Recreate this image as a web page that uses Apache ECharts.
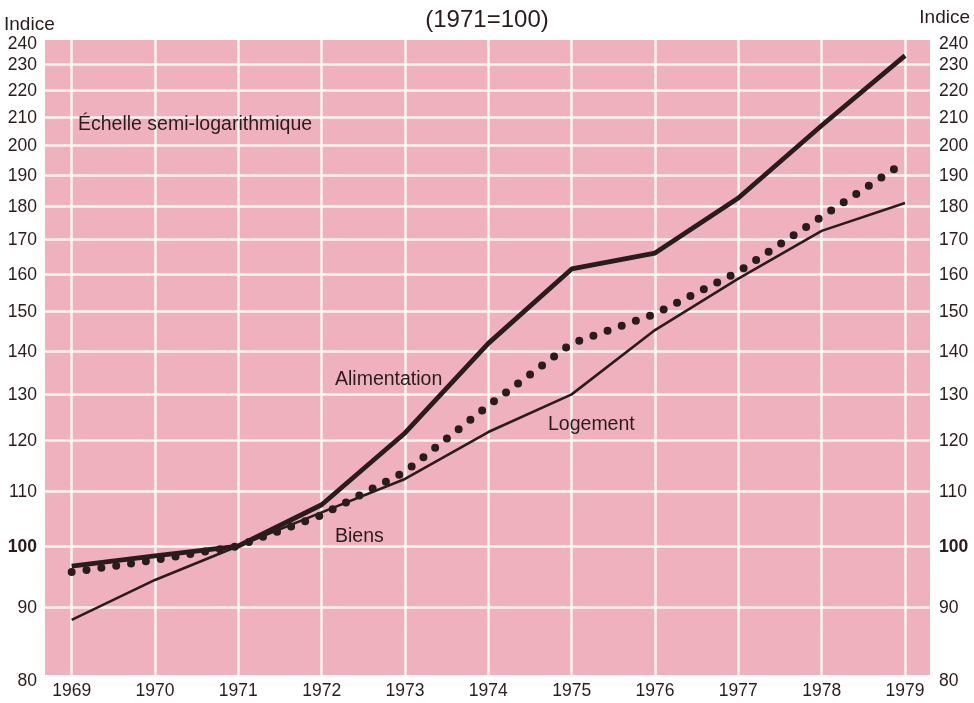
<!DOCTYPE html>
<html>
<head>
<meta charset="utf-8">
<script src="https://cdn.jsdelivr.net/npm/echarts@6/dist/echarts.min.js"></script>
<style>
  html, body { margin: 0; padding: 0; background: #fff; }
  #chart { width: 974px; height: 703px; }
</style>
</head>
<body>
<div id="chart"></div>
<script>
var years = [1969, 1970, 1971, 1972, 1973, 1974, 1975, 1976, 1977, 1978, 1979];
var alimentation = [96.6, 98.3, 100, 107.4, 121.6, 142, 161.5, 166, 182.6, 207, 233.6];
var biens = [95.6, 97.6, 100, 105.5, 113.7, 127.5, 142, 149.4, 160.7, 176.8, 194.3];
var logement = [88, 94.3, 100, 106, 112.3, 121.8, 130, 145.3, 158.8, 172.5, 181];
var yTicks = [80, 90, 100, 110, 120, 130, 140, 150, 160, 170, 180, 190, 200, 210, 220, 230, 240];

var ink = '#2a1c1d';
var font = 'Liberation Sans';

function pairs(vals) {
  return years.map(function (y, i) { return [y, vals[i]]; });
}

/* horizontal grid lines (log scale) + left / right labels */
function tickLines(side) {
  return yTicks.map(function (v) {
    var first = v === yTicks[0], last = v === yTicks[yTicks.length - 1];
    return {
      yAxis: v,
      lineStyle: {
        color: side === 'start' && !first && !last ? '#fbf6f2' : 'transparent',
        width: 2.5,
        type: 'solid'
      },
      label: {
        show: true,
        position: side,
        distance: side === 'start' ? 8 : 9,
        offset: [0, first ? 6 : (last ? 4 : 1)],
        formatter: String(v),
        fontWeight: v === 100 ? 'bold' : 'normal'
      }
    };
  });
}

var chart = echarts.init(document.getElementById('chart'));
chart.setOption({
  animation: false,
  backgroundColor: '#fff',
  title: {
    text: '(1971=100)',
    left: 'center',
    top: 3,
    textStyle: { fontFamily: font, fontSize: 24, fontWeight: 'normal', color: ink }
  },
  grid: {
    left: 45, right: 44, top: 40, bottom: 28,
    show: true,
    backgroundColor: '#f0b1be',
    borderWidth: 0
  },
  xAxis: {
    type: 'value',
    min: 1968.68,
    max: 1979.3,
    axisLine: { show: false },
    axisTick: { show: false, customValues: years },
    axisLabel: {
      customValues: years,
      margin: 7,
      fontFamily: font, fontSize: 17.5, color: ink,
      formatter: function (v) { return String(v); }
    },
    splitLine: { show: true, lineStyle: { color: '#fbf6f2', width: 2.5 } }
  },
  yAxis: {
    type: 'log',
    logBase: 10,
    min: 80,
    max: 240,
    axisLine: { show: false },
    axisTick: { show: false },
    axisLabel: { show: false },
    splitLine: { show: false }
  },
  graphic: [
    { type: 'text', z: 100, left: 4, top: 15, style: { text: 'Indice', font: '19px ' + font, fill: ink } },
    { type: 'text', z: 100, right: 4, top: 8, style: { text: 'Indice', font: '19px ' + font, fill: ink } },
    { type: 'text', z: 100, left: 78, top: 115, style: { text: 'Échelle semi-logarithmique', font: '19.5px ' + font, fill: ink } },
    { type: 'text', z: 100, left: 335, top: 370, style: { text: 'Alimentation', font: '19.5px ' + font, fill: ink } },
    { type: 'text', z: 100, left: 548, top: 415, style: { text: 'Logement', font: '19.5px ' + font, fill: ink } },
    { type: 'text', z: 100, left: 335, top: 527, style: { text: 'Biens', font: '19.5px ' + font, fill: ink } }
  ],
  series: [
    {
      name: 'Logement',
      type: 'line',
      data: pairs(logement),
      showSymbol: false,
      silent: true,
      z: 3,
      lineStyle: { color: ink, width: 2.6 },
      markLine: {
        silent: true,
        symbol: 'none',
        z: 1,
        label: { fontFamily: font, fontSize: 17.5, color: ink },
        data: tickLines('start')
      }
    },
    {
      name: 'Biens',
      type: 'line',
      data: pairs(biens),
      showSymbol: false,
      silent: true,
      z: 3,
      lineStyle: { color: ink, width: 8, type: [0, 15], cap: 'round' },
      markLine: {
        silent: true,
        symbol: 'none',
        z: 1,
        label: { fontFamily: font, fontSize: 17.5, color: ink },
        data: tickLines('end')
      }
    },
    {
      name: 'Alimentation',
      type: 'line',
      data: pairs(alimentation),
      showSymbol: false,
      silent: true,
      z: 3,
      lineStyle: { color: ink, width: 4.8 }
    }
  ]
});
</script>
</body>
</html>
